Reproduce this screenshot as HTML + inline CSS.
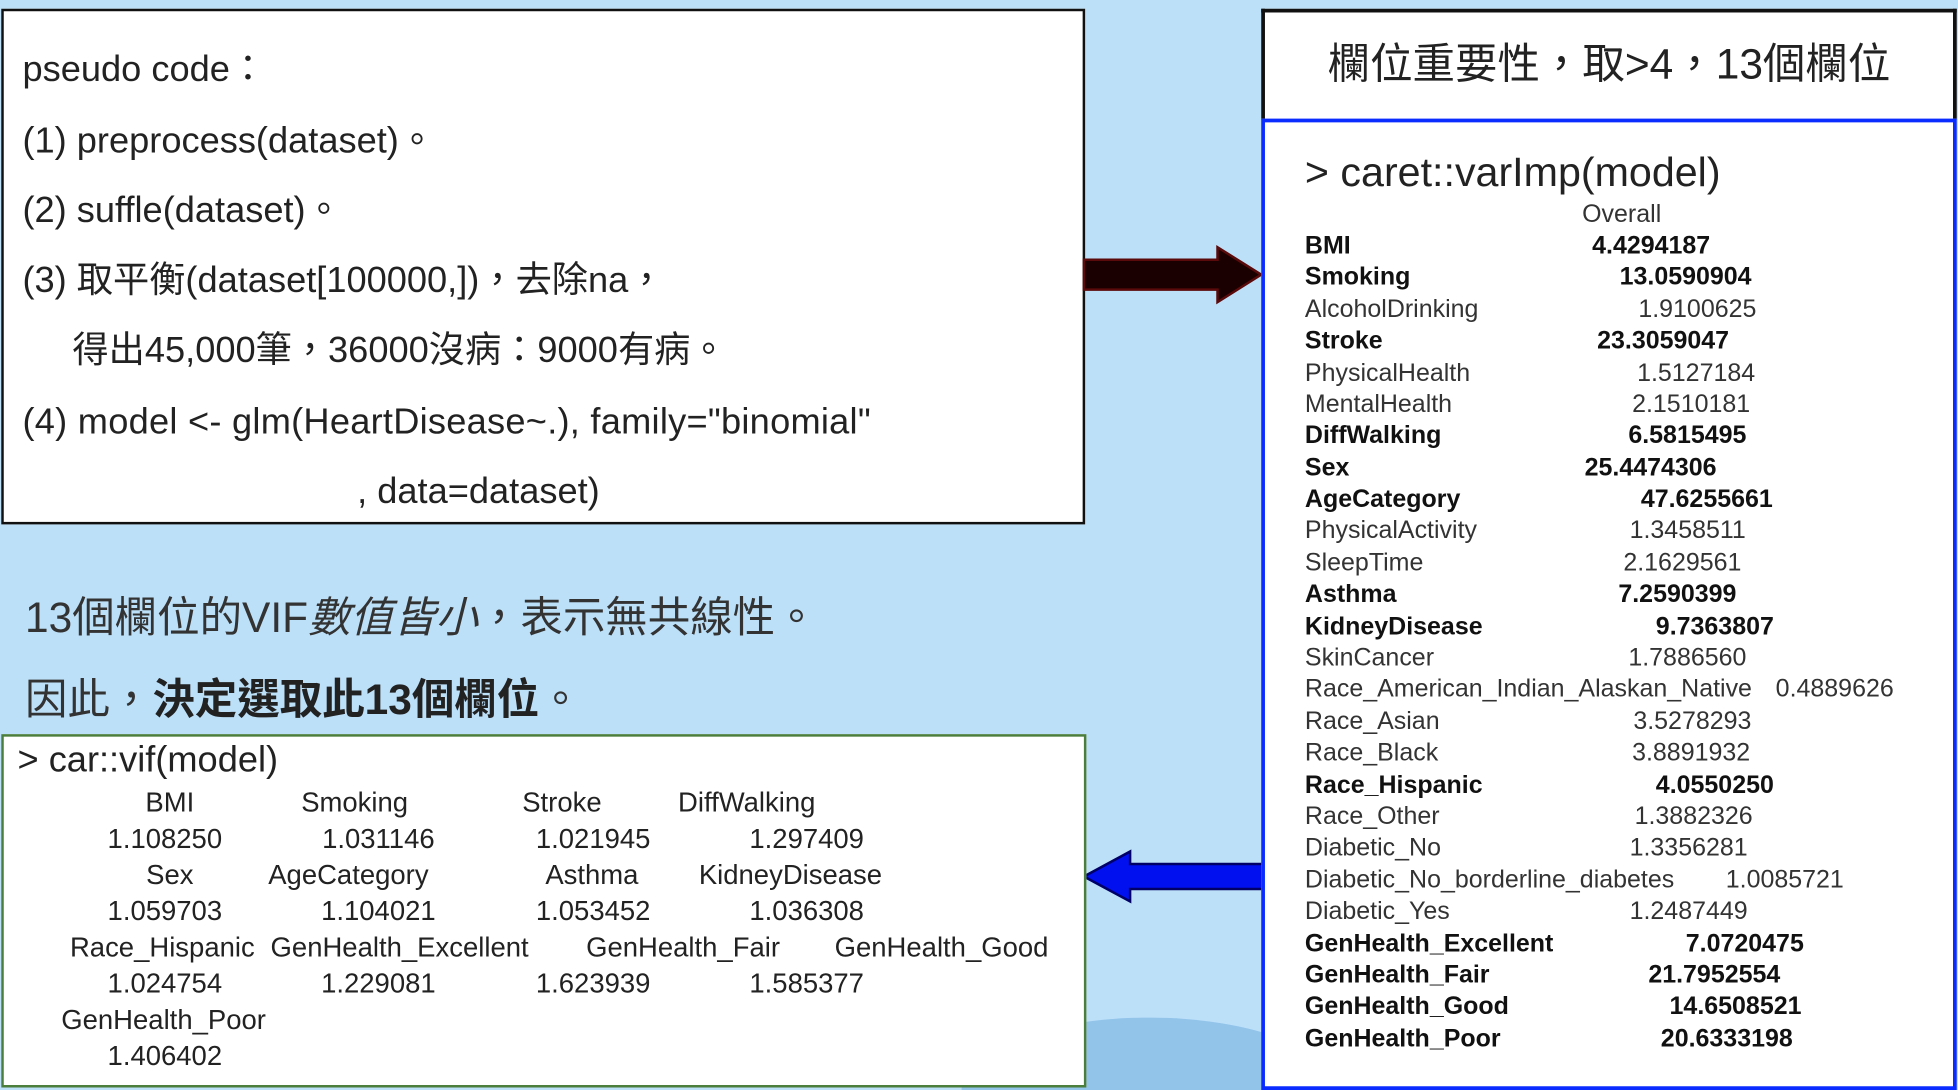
<!DOCTYPE html>
<html><head><meta charset="utf-8"><style>
html,body{margin:0;padding:0;width:100%;height:100%;overflow:hidden;background:#bde0f9;}
svg.root{position:absolute;left:0;top:0;width:100vw;height:100vh;display:block;}
#s{position:relative;width:1568px;height:873px;overflow:hidden;background:#bde0f9;font-family:"Liberation Sans","Noto Sans CJK TC",sans-serif;color:#222;}
.a{position:absolute;white-space:nowrap;}
.c{transform:translateX(-50%);}
.r{font-size:20px;line-height:22px;color:#333;}
.b{font-weight:bold;color:#111;}
.v{font-size:22px;line-height:26px;color:#222;}
.p{font-size:29px;line-height:36px;color:#222;}
</style></head><body>
<svg class="root" viewBox="0 0 1568 873" preserveAspectRatio="none"><foreignObject x="0" y="0" width="1568" height="873"><div xmlns="http://www.w3.org/1999/xhtml" id="s">
<div class="a" style="left:770px;top:815px;width:300px;height:58px;border-radius:150px 150px 0 0 / 58px 58px 0 0;background:#92c4ea;"></div>
<div class="a" style="left:1px;top:7px;width:864px;height:409px;background:#fff;border:2px solid #111;"></div>
<div class="a p" style="left:18px;top:38px;">pseudo code：</div>
<div class="a p" style="left:18px;top:95px;">(1) preprocess(dataset)。</div>
<div class="a p" style="left:18px;top:151px;">(2) suffle(dataset)。</div>
<div class="a p" style="left:18px;top:207px;">(3) 取平衡(dataset[100000,])，去除na，</div>
<div class="a p" style="left:58px;top:263px;">得出45,000筆，36000沒病：9000有病。</div>
<div class="a p" style="left:18px;top:320px;letter-spacing:0.2px">(4) model &lt;- glm(HeartDisease~.), family="binomial"</div>
<div class="a p" style="left:286px;top:376px;">, data=dataset)</div>

<svg class="a" style="left:860px;top:190px" width="160" height="60"><polygon points="8,18 115,18 115,8 150,30 115,52 115,42 8,42" fill="#1a0000" stroke="#5a0a0a" stroke-width="2"/></svg>
<svg class="a" style="left:860px;top:672px" width="160" height="60"><polygon points="152,20 45,20 45,10 8,30 45,50 45,40 152,40" fill="#0010ee" stroke="#000066" stroke-width="2"/></svg>

<div class="a" style="left:1010px;top:7px;width:551px;height:86px;background:#fff;border:3px solid #111;border-bottom:none;"></div>
<div class="a" style="left:1010px;top:32px;width:557px;text-align:center;font-size:34px;line-height:40px;color:#222;">欄位重要性，取&gt;4，13個欄位</div>
<div class="a" style="left:1010px;top:95px;width:551px;height:772px;background:#fff;border:3px solid #0a2cff;"></div>
<div class="a" style="left:1045px;top:118px;font-size:33px;line-height:40px;color:#222;">&gt; caret::varImp(model)</div>
<div class="a r" style="left:1267px;top:161px;">Overall</div>

<div class="a r b" style="left:1045px;top:186px">BMI</div><div class="a r b" style="left:1275px;top:186px">4.4294187</div>
<div class="a r b" style="left:1045px;top:211px">Smoking</div><div class="a r b" style="left:1297px;top:211px">13.0590904</div>
<div class="a r" style="left:1045px;top:237px">AlcoholDrinking</div><div class="a r" style="left:1312px;top:237px">1.9100625</div>
<div class="a r b" style="left:1045px;top:262px">Stroke</div><div class="a r b" style="left:1279px;top:262px">23.3059047</div>
<div class="a r" style="left:1045px;top:288px">PhysicalHealth</div><div class="a r" style="left:1311px;top:288px">1.5127184</div>
<div class="a r" style="left:1045px;top:313px">MentalHealth</div><div class="a r" style="left:1307px;top:313px">2.1510181</div>
<div class="a r b" style="left:1045px;top:338px">DiffWalking</div><div class="a r b" style="left:1304px;top:338px">6.5815495</div>
<div class="a r b" style="left:1045px;top:364px">Sex</div><div class="a r b" style="left:1269px;top:364px">25.4474306</div>
<div class="a r b" style="left:1045px;top:389px">AgeCategory</div><div class="a r b" style="left:1314px;top:389px">47.6255661</div>
<div class="a r" style="left:1045px;top:414px">PhysicalActivity</div><div class="a r" style="left:1305px;top:414px">1.3458511</div>
<div class="a r" style="left:1045px;top:440px">SleepTime</div><div class="a r" style="left:1300px;top:440px">2.1629561</div>
<div class="a r b" style="left:1045px;top:465px">Asthma</div><div class="a r b" style="left:1296px;top:465px">7.2590399</div>
<div class="a r b" style="left:1045px;top:491px">KidneyDisease</div><div class="a r b" style="left:1326px;top:491px">9.7363807</div>
<div class="a r" style="left:1045px;top:516px">SkinCancer</div><div class="a r" style="left:1304px;top:516px">1.7886560</div>
<div class="a r" style="left:1045px;top:541px">Race_American_Indian_Alaskan_Native</div><div class="a r" style="left:1422px;top:541px">0.4889626</div>
<div class="a r" style="left:1045px;top:567px">Race_Asian</div><div class="a r" style="left:1308px;top:567px">3.5278293</div>
<div class="a r" style="left:1045px;top:592px">Race_Black</div><div class="a r" style="left:1307px;top:592px">3.8891932</div>
<div class="a r b" style="left:1045px;top:618px">Race_Hispanic</div><div class="a r b" style="left:1326px;top:618px">4.0550250</div>
<div class="a r" style="left:1045px;top:643px">Race_Other</div><div class="a r" style="left:1309px;top:643px">1.3882326</div>
<div class="a r" style="left:1045px;top:668px">Diabetic_No</div><div class="a r" style="left:1305px;top:668px">1.3356281</div>
<div class="a r" style="left:1045px;top:694px">Diabetic_No_borderline_diabetes</div><div class="a r" style="left:1382px;top:694px">1.0085721</div>
<div class="a r" style="left:1045px;top:719px">Diabetic_Yes</div><div class="a r" style="left:1305px;top:719px">1.2487449</div>
<div class="a r b" style="left:1045px;top:745px">GenHealth_Excellent</div><div class="a r b" style="left:1350px;top:745px">7.0720475</div>
<div class="a r b" style="left:1045px;top:770px">GenHealth_Fair</div><div class="a r b" style="left:1320px;top:770px">21.7952554</div>
<div class="a r b" style="left:1045px;top:795px">GenHealth_Good</div><div class="a r b" style="left:1337px;top:795px">14.6508521</div>
<div class="a r b" style="left:1045px;top:821px">GenHealth_Poor</div><div class="a r b" style="left:1330px;top:821px">20.6333198</div>

<div class="a" style="left:20px;top:475px;font-size:34px;line-height:40px;color:#333;">13個欄位的VIF<i>數值皆小</i>，表示無共線性。</div>
<div class="a" style="left:20px;top:541px;font-size:34px;line-height:40px;color:#333;">因此，<b style="color:#222">決定選取此13個欄位</b>。</div>

<div class="a" style="left:1px;top:588px;width:865px;height:279px;background:#fff;border:2px solid #4b7d3c;"></div>
<div class="a" style="left:14px;top:592px;font-size:29px;line-height:34px;">&gt; car::vif(model)</div>
<div class="a v c" style="left:136px;top:630px">BMI</div><div class="a v c" style="left:284px;top:630px">Smoking</div><div class="a v c" style="left:450px;top:630px">Stroke</div><div class="a v c" style="left:598px;top:630px">DiffWalking</div>
<div class="a v c" style="left:132px;top:659px">1.108250</div><div class="a v c" style="left:303px;top:659px">1.031146</div><div class="a v c" style="left:475px;top:659px">1.021945</div><div class="a v c" style="left:646px;top:659px">1.297409</div>
<div class="a v c" style="left:136px;top:688px">Sex</div><div class="a v c" style="left:279px;top:688px">AgeCategory</div><div class="a v c" style="left:474px;top:688px">Asthma</div><div class="a v c" style="left:633px;top:688px">KidneyDisease</div>
<div class="a v c" style="left:132px;top:717px">1.059703</div><div class="a v c" style="left:303px;top:717px">1.104021</div><div class="a v c" style="left:475px;top:717px">1.053452</div><div class="a v c" style="left:646px;top:717px">1.036308</div>
<div class="a v c" style="left:130px;top:746px">Race_Hispanic</div><div class="a v c" style="left:320px;top:746px">GenHealth_Excellent</div><div class="a v c" style="left:547px;top:746px">GenHealth_Fair</div><div class="a v c" style="left:754px;top:746px">GenHealth_Good</div>
<div class="a v c" style="left:132px;top:775px">1.024754</div><div class="a v c" style="left:303px;top:775px">1.229081</div><div class="a v c" style="left:475px;top:775px">1.623939</div><div class="a v c" style="left:646px;top:775px">1.585377</div>
<div class="a v c" style="left:131px;top:804px">GenHealth_Poor</div>
<div class="a v c" style="left:132px;top:833px">1.406402</div>
</div></foreignObject></svg></body></html>
